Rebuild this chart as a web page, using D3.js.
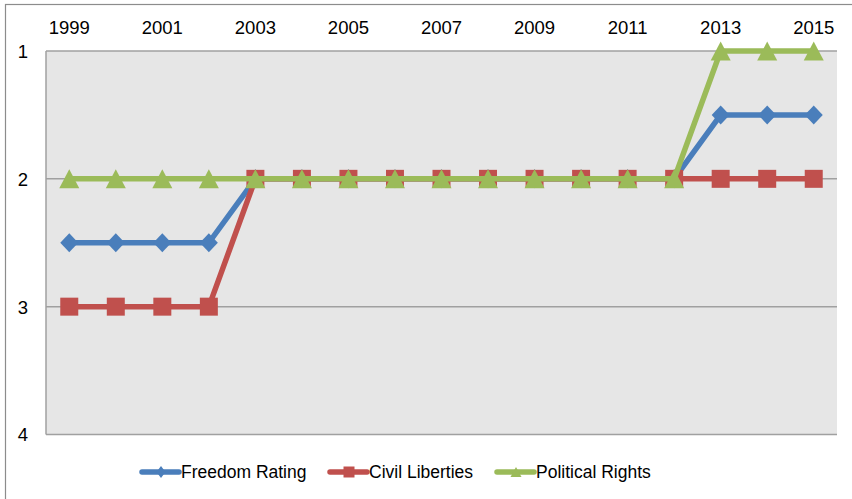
<!DOCTYPE html>
<html><head><meta charset="utf-8">
<script src="https://cdn.jsdelivr.net/npm/d3@7"></script>
<style>body{margin:0;background:#fff}svg{display:block}text{font-family:"Liberation Sans",Arial,sans-serif;fill:#000}</style>
</head><body><svg id="c" width="852" height="499"></svg>
<script>
const years = [1999,2000,2001,2002,2003,2004,2005,2006,2007,2008,2009,2010,2011,2012,2013,2014,2015];
const yearLabels = [1999,2001,2003,2005,2007,2009,2011,2013,2015];
const freedomRating = [2.5,2.5,2.5,2.5,2,2,2,2,2,2,2,2,2,2,1.5,1.5,1.5];
const civilLiberties = [3,3,3,3,2,2,2,2,2,2,2,2,2,2,2,2,2];
const politicalRights = [2,2,2,2,2,2,2,2,2,2,2,2,2,2,1,1,1];
const yTicks = [1,2,3,4];
const seriesNames = ["Freedom Rating","Civil Liberties","Political Rights"];
const colors = ["#4a7ebb","#c0504d","#9bbb59"];

function shapePath(k, w, h){
  const a=w/2, b=h/2;
  if(k===0) return `M0,${-b}L${a},0L0,${b}L${-a},0Z`;
  if(k===1) return `M${-a},${-b}H${a}V${b}H${-a}Z`;
  return `M0,${-b}L${a},${b}L${-a},${b}Z`;
}

const svg = d3.select("#c");
svg.append("rect").attr("x",5.5).attr("y",4.5).attr("width",900).attr("height",600)
  .attr("fill","#fff").attr("stroke","#8c8c8c").attr("stroke-width",1.2);

const L=46, R=837, T=51, B=434.5;
const x = d3.scaleBand().domain(years).range([L,R]);
const y = d3.scaleLinear().domain([1,4]).range([T,B]);
const cx = d => x(d)+x.bandwidth()/2;

svg.append("rect").attr("x",L).attr("y",T).attr("width",R-L).attr("height",B-T).attr("fill","#e6e6e6");
svg.append("g").selectAll("line").data(yTicks).join("line")
  .attr("x1",L).attr("x2",R).attr("y1",d=>y(d)).attr("y2",d=>y(d))
  .attr("stroke","#a0a0a0").attr("stroke-width",1.5);
svg.append("line").attr("x1",L).attr("x2",L).attr("y1",T).attr("y2",B).attr("stroke","#a0a0a0").attr("stroke-width",1.5);

// axes
const xAxis = d3.axisTop(x).tickValues(yearLabels).tickSize(0).tickPadding(0);
const gx = svg.append("g").attr("transform",`translate(0,${T-17})`).call(xAxis);
gx.select(".domain").remove();
gx.selectAll("text").style("font-size","18.5px").attr("dy","0");
const yAxis = d3.axisLeft(y).tickValues(yTicks).tickSize(0).tickPadding(0).tickFormat(d3.format("d"));
const gy = svg.append("g").attr("transform",`translate(28,0)`).call(yAxis);
gy.select(".domain").remove();
gy.selectAll("text").style("font-size","18.5px").attr("dy","0.35em");

const data = [freedomRating, civilLiberties, politicalRights];
const line = d3.line().x((d,i)=>cx(years[i])).y(d=>y(d));
const dims = [[18,19],[18,18],[20,19]];
data.forEach((vals,k)=>{
  const g = svg.append("g");
  g.append("path").attr("d",line(vals)).attr("fill","none").attr("stroke",colors[k]).attr("stroke-width",5.5).attr("stroke-linejoin","round");
  g.selectAll("path.m").data(vals).join("path").attr("class","m")
    .attr("transform",(d,i)=>`translate(${cx(years[i])},${y(d)})`)
    .attr("d",shapePath(k,dims[k][0],dims[k][1])).attr("fill",colors[k]);
});

// legend
const legX = [141, 329, 496];
const ldims = [[9,12],[11,11],[11,10]];
seriesNames.forEach((n,k)=>{
  const g = svg.append("g").attr("transform",`translate(${legX[k]},472)`);
  g.append("line").attr("x1",1).attr("x2",38).attr("stroke",colors[k]).attr("stroke-width",5.5).attr("stroke-linecap","round");
  g.append("path").attr("transform","translate(20,0)").attr("d",shapePath(k,ldims[k][0],ldims[k][1])).attr("fill",colors[k]);
  g.append("text").attr("x",40).attr("y",0).attr("dy","0.35em").style("font-size","17.5px").text(n);
});
</script></body></html>
